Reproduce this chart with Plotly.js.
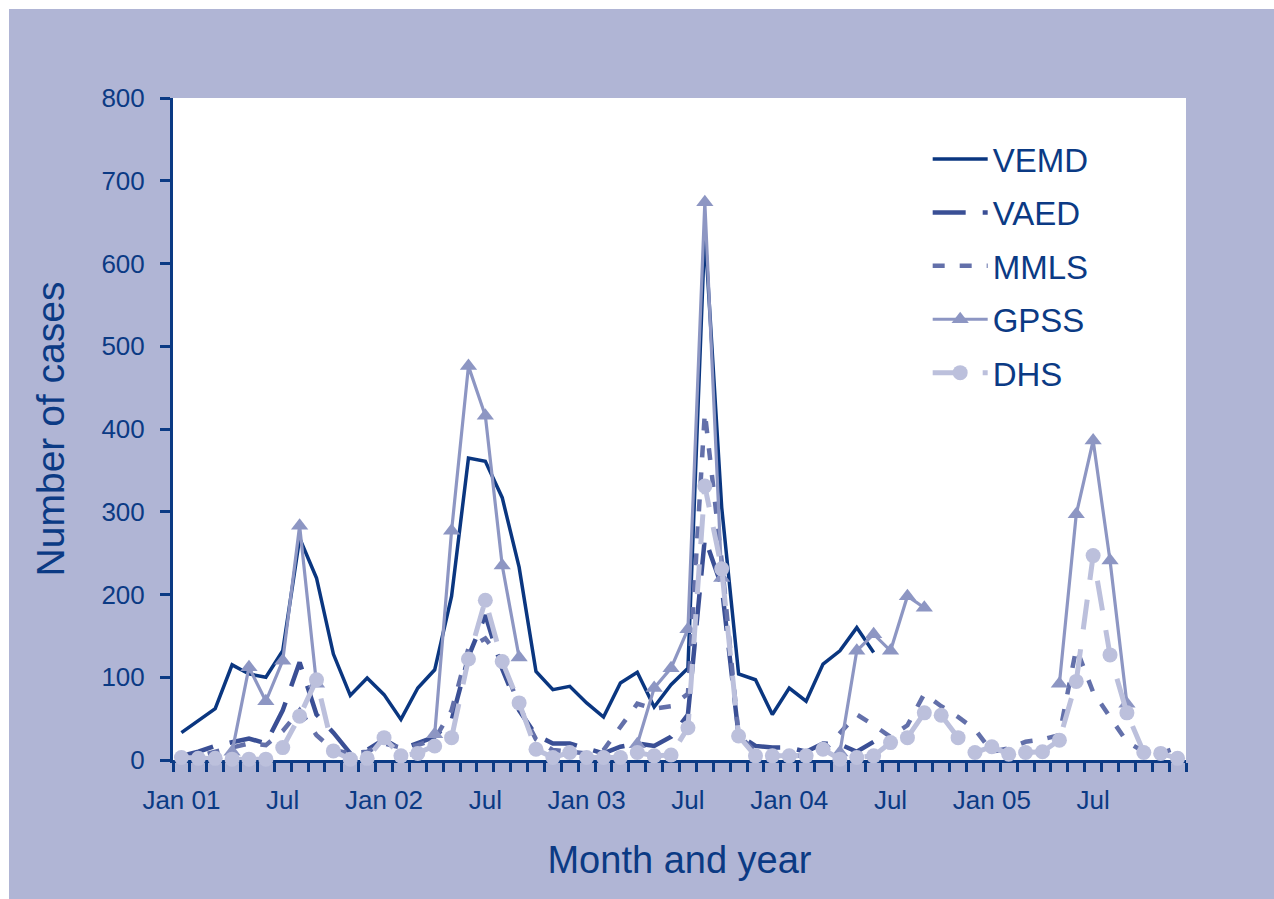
<!DOCTYPE html>
<html>
<head>
<meta charset="utf-8">
<script src="https://cdn.plot.ly/plotly-3.0.1.min.js"></script>
<style>
  html, body { margin: 0; padding: 0; background: #ffffff; }
  #chart { position: absolute; left: 9px; top: 9px; width: 1265px; height: 890px; }
</style>
</head>
<body>
<div id="chart"></div>
<script>
// Months Jan 2001 .. Dec 2005
const months = [
  "Jan 01","Feb 01","Mar 01","Apr 01","May 01","Jun 01","Jul 01","Aug 01","Sep 01","Oct 01","Nov 01","Dec 01",
  "Jan 02","Feb 02","Mar 02","Apr 02","May 02","Jun 02","Jul 02","Aug 02","Sep 02","Oct 02","Nov 02","Dec 02",
  "Jan 03","Feb 03","Mar 03","Apr 03","May 03","Jun 03","Jul 03","Aug 03","Sep 03","Oct 03","Nov 03","Dec 03",
  "Jan 04","Feb 04","Mar 04","Apr 04","May 04","Jun 04","Jul 04","Aug 04","Sep 04","Oct 04","Nov 04","Dec 04",
  "Jan 05","Feb 05","Mar 05","Apr 05","May 05","Jun 05","Jul 05","Aug 05","Sep 05","Oct 05","Nov 05","Dec 05"
];
const tickMonths = ["Jan 01","Jul 01","Jan 02","Jul 02","Jan 03","Jul 03","Jan 04","Jul 04","Jan 05","Jul 05"];
const tickLabels = ["Jan 01","Jul","Jan 02","Jul","Jan 03","Jul","Jan 04","Jul","Jan 05","Jul"];

const vemd = [33,47,62,115,104,100,132,268,220,128,78,99,
              79,49,87,109,198,365,361,317,233,107,85,89,
              69,52,93,106,64,91,111,640,305,104,97,55,
              87,71,116,132,160,130,null,null,null,null,null,null,
              null,null,null,null,null,null,null,null,null,null,null,null];
const vaed = [5,10,17,22,26,20,60,118,55,33,8,12,
              25,13,20,28,48,125,175,110,60,30,20,20,
              14,8,16,20,17,28,55,268,210,30,17,15,
              15,10,20,19,10,22,null,null,null,null,null,null,
              null,null,null,null,null,null,null,null,null,null,null,null];
const mmls = [0,5,10,15,20,18,35,60,30,12,8,10,
              20,15,18,25,60,135,147,120,65,25,12,10,
              8,12,40,68,62,65,80,420,240,30,10,5,
              5,5,10,33,55,42,28,42,80,65,52,37,
              10,14,22,25,30,135,82,52,22,10,8,15];
const gpss = [null,null,null,10,112,71,120,283,92,null,null,null,
              null,null,null,31,277,476,416,235,124,null,null,null,
              null,null,null,19,87,111,158,674,220,null,null,null,
              null,null,null,9,132,152,132,198,184,null,null,null,
              null,null,null,null,92,297,386,241,68,null,null,null];
const dhs  = [3,2,2,1,1,1,15,53,97,11,1,2,
              27,5,8,17,27,122,193,119,69,13,3,9,
              3,3,3,9,5,6,39,331,231,29,5,5,
              5,5,13,1,3,5,21,27,57,54,27,9,
              16,7,9,10,24,95,247,127,57,9,8,2];
const yTicks = [0,100,200,300,400,500,600,700,800];

const idx = months.map((m, i) => i);
const tickIdx = tickMonths.map(m => months.indexOf(m));

const ink = "#0b3a84";
const font = "Liberation Sans, Arial, Helvetica, sans-serif";

function tr(name, y, line, marker, group) {
  const t = {
    type: "scatter", mode: marker ? "lines+markers" : "lines",
    name: name, x: idx, y: y, line: line, cliponaxis: false,
    legendgroup: group, hoverinfo: "skip"
  };
  if (marker) t.marker = marker;
  return t;
}

const data = [
  tr("VEMD", vemd, {color: "#0a3680", width: 3.5}, null, "a"),
  tr("VAED", vaed, {color: "#3a4f95", width: 4.5, dash: "33px,17px"}, null, "b"),
  tr("MMLS", mmls, {color: "#6370aa", width: 4.5, dash: "12px,15px"}, null, "c"),
  tr("GPSS", gpss, {color: "#8d96c3", width: 3.2}, {symbol: "triangle-up", size: 15, color: "#8d96c3"}, "d"),
  tr("DHS", dhs, {color: "#bcc0dc", width: 5, dash: "30px,20px"}, {symbol: "circle", size: 15, color: "#bcc0dc"}, "e")
];

const layout = {
  width: 1265, height: 890,
  paper_bgcolor: "#b0b5d5",
  plot_bgcolor: "#ffffff",
  margin: {l: 164, r: 88, t: 89, b: 139, pad: 0},
  font: {family: font, color: ink},
  showlegend: true,
  legend: {
    x: 0.745, y: 0.95, xanchor: "left", yanchor: "top",
    bgcolor: "rgba(0,0,0,0)", font: {size: 33, color: ink, family: font},
    itemwidth: 55, tracegroupgap: 7.5, traceorder: "grouped"
  },
  xaxis: {
    range: [-0.5, 59.5], showgrid: false, zeroline: false,
    showline: true, linecolor: ink, linewidth: 3,
    tickmode: "array", tickvals: tickIdx, ticktext: tickLabels,
    ticks: "", tickfont: {size: 26, color: ink, family: font},
    ticklabelstandoff: 15,
    minor: {tickmode: "linear", tick0: -0.5, dtick: 1, ticks: "outside", ticklen: 9, tickwidth: 3, tickcolor: ink, showgrid: false},
    title: {text: "Month and year", font: {size: 38, color: ink, family: font}, standoff: 33},
    layer: "below traces", fixedrange: true
  },
  yaxis: {
    range: [0, 800], showgrid: false, zeroline: false,
    showline: true, linecolor: ink, linewidth: 3,
    tickmode: "array", tickvals: yTicks,
    ticks: "outside", ticklen: 10, tickwidth: 3, tickcolor: ink,
    tickfont: {size: 26, color: ink, family: font},
    ticklabelstandoff: 10,
    title: {text: "Number of cases", font: {size: 39, color: ink, family: font}, standoff: 25},
    layer: "below traces", fixedrange: true
  }
};

Plotly.newPlot("chart", data, layout, {displayModeBar: false, staticPlot: true});
</script>
</body>
</html>
